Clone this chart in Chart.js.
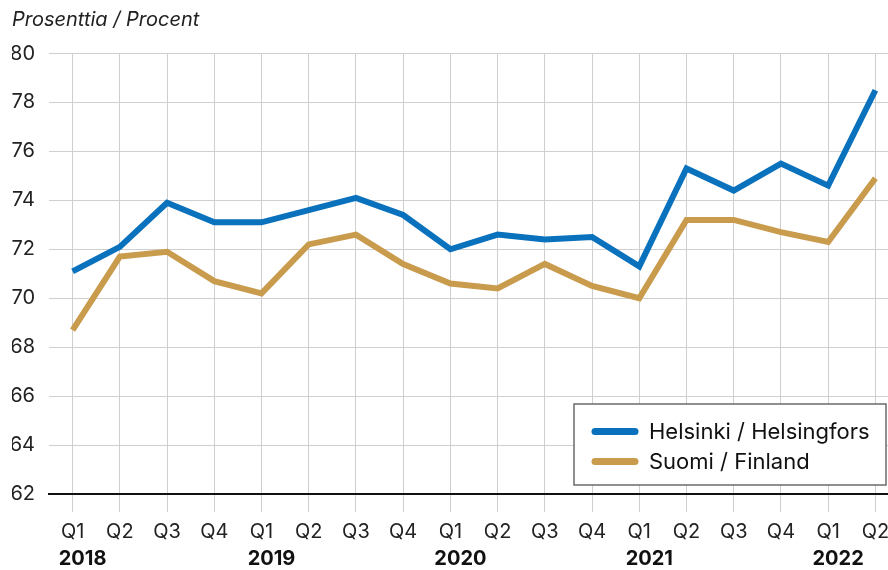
<!DOCTYPE html>
<html>
<head>
<meta charset="utf-8">
<script src="https://cdn.jsdelivr.net/npm/chart.js@4/dist/chart.umd.min.js"></script>
<style>
  html, body { margin: 0; padding: 0; background: #fff; }
  #wrap { width: 888px; height: 570px; overflow: hidden; position: relative; }
</style>
</head>
<body>
<div id="wrap"><canvas id="chart" width="899" height="570"></canvas></div>
<script>
// työllisyysaste neljännesvuosittain
const quarters = ["Q1", "Q2", "Q3", "Q4", "Q1", "Q2", "Q3", "Q4", "Q1", "Q2", "Q3", "Q4", "Q1", "Q2", "Q3", "Q4", "Q1", "Q2"];
const years = ["2018", "2019", "2020", "2021", "2022"];
const helsinki = [71.1, 72.1, 73.9, 73.1, 73.1, 73.6, 74.1, 73.4, 72.0, 72.6, 72.4, 72.5, 71.3, 75.3, 74.4, 75.5, 74.6, 78.5];
const suomi = [68.7, 71.7, 71.9, 70.7, 70.2, 72.2, 72.6, 71.4, 70.6, 70.4, 71.4, 70.5, 70.0, 73.2, 73.2, 72.7, 72.3, 74.9];
const yTicks = [62, 64, 66, 68, 70, 72, 74, 76, 78, 80];

const FONT = "Inter, 'Liberation Sans', sans-serif";
const TEXT = "#222";
const GRID = "#cfcfcf";

Chart.defaults.font.family = FONT;
Chart.defaults.color = TEXT;

// legend drawn as a framed box inside the plot
const boxLegend = {
  id: "boxLegend",
  afterDraw(chart) {
    const c = chart.ctx;
    c.save();
    c.fillStyle = "#fff";
    c.fillRect(574, 404, 312, 81);
    c.strokeStyle = "#6b6b6b";
    c.lineWidth = 1.5;
    c.strokeRect(574, 404, 312, 81);
    chart.data.datasets.forEach((ds, i) => {
      const y = 431.5 + i * 30;
      c.strokeStyle = ds.borderColor;
      c.lineWidth = 7;
      c.lineCap = "round";
      c.beginPath();
      c.moveTo(595, y);
      c.lineTo(635, y);
      c.stroke();
      c.fillStyle = "#111";
      c.font = "22px " + FONT;
      c.textBaseline = "middle";
      c.fillText(ds.label, 649, y + 1);
    });
    c.restore();
  },
};

new Chart(document.getElementById("chart"), {
  type: "line",
  data: {
    labels: quarters,
    datasets: [
      {
        label: "Helsinki / Helsingfors",
        data: helsinki,
        borderColor: "#0a71bd",
        borderWidth: 6,
        pointRadius: 0,
        tension: 0,
      },
      {
        label: "Suomi / Finland",
        data: suomi,
        borderColor: "#c99b4d",
        borderWidth: 6,
        pointRadius: 0,
        tension: 0,
      },
    ],
  },
  options: {
    responsive: false,
    animation: false,
    layout: { padding: { left: 12, right: 0, top: 0, bottom: 0 } },
    plugins: {
      legend: { display: false },
      tooltip: { enabled: false },
      title: {
        display: true,
        text: "Prosenttia / Procent",
        align: "start",
        color: TEXT,
        font: { size: 20, style: "italic", weight: "normal" },
        padding: { top: 8, bottom: 21.5 },
      },
    },
    scales: {
      x: {
        offset: true,
        grid: { offset: false, color: GRID, lineWidth: 1, tickLength: 18, drawTicks: true },
        border: { display: true, color: "#111", width: 2 },
        ticks: { autoSkip: false, maxRotation: 0, padding: 8, color: TEXT, font: { size: 20 } },
        afterFit: (s) => { s.height = 50; },
      },
      x2: {
        type: "category",
        position: "bottom",
        labels: quarters,
        offset: true,
        grid: { display: false, drawTicks: false },
        border: { display: false },
        ticks: {
          autoSkip: false,
          maxRotation: 0,
          padding: 3,
          labelOffset: 10,
          color: "#111",
          font: { size: 20, weight: "bold" },
          callback: (v, i) => (i % 4 === 0 ? years[i / 4] : ""),
        },
        afterFit: (s) => { s.height = 26; },
      },
      y: {
        min: 62,
        max: 80,
        afterBuildTicks: (s) => { s.ticks = yTicks.map((v) => ({ value: v })); },
        grid: {
          drawTicks: false,
          color: (c) => (c.tick && c.tick.value === 62 ? "#111" : GRID),
          lineWidth: (c) => (c.tick && c.tick.value === 62 ? 2 : 1),
        },
        border: { display: false },
        ticks: { padding: 14, color: TEXT, font: { size: 20 } },
        afterFit: (s) => { s.width = 37; },
      },
    },
  },
  plugins: [boxLegend],
});
</script>
</body>
</html>
